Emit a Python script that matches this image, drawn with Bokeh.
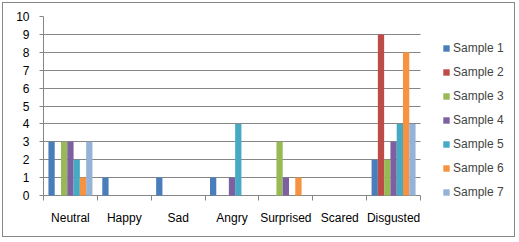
from bokeh.plotting import figure
from bokeh.models import ColumnDataSource, FixedTicker, Range1d, Legend, LegendItem
from bokeh.transform import dodge
from bokeh.embed import file_html
from bokeh.resources import INLINE

categories = ["Neutral", "Happy", "Sad", "Angry", "Surprised", "Scared", "Disgusted"]
series_names = ["Sample 1", "Sample 2", "Sample 3", "Sample 4", "Sample 5", "Sample 6", "Sample 7"]
sample1 = [3, 1, 1, 1, 0, 0, 2]
sample2 = [0, 0, 0, 0, 0, 0, 9]
sample3 = [3, 0, 0, 0, 3, 0, 2]
sample4 = [3, 0, 0, 1, 1, 0, 3]
sample5 = [2, 0, 0, 4, 0, 0, 4]
sample6 = [1, 0, 0, 0, 1, 0, 8]
sample7 = [3, 0, 0, 0, 0, 0, 4]
y_ticks = [0, 1, 2, 3, 4, 5, 6, 7, 8, 9, 10]
series = [sample1, sample2, sample3, sample4, sample5, sample6, sample7]
colors = ["#4A7EBB", "#BE4B48", "#98B954", "#7D60A0", "#46AAC5", "#F69240", "#94B3D6"]

FONT = "Liberation Sans"
GRAY = "#868686"

n = len(categories)
data = {"x": [i + 0.5 for i in range(n)]}
for k, s in enumerate(series):
    data["s%d" % k] = s
src = ColumnDataSource(data)

# layout (canvas pixels; figure sits inside a 2px margin + 1px border)
W, H = 513, 235
left, right_b, top, bottom_b = 40, 3, 13, 38
frame_w = W - left - right_b          # frame spans to the right edge (legend lives inside)
cat_w = 377                           # width of the category area
value_h = 179                         # pixels from 0 to 10
ext = 5                               # frame extends 5px below value 0
x_end = n * frame_w / cat_w
y_start = -ext * 10 / value_h

p = figure(width=W, height=H, output_backend="svg", toolbar_location=None,
           x_range=Range1d(0, x_end), y_range=Range1d(y_start, 10),
           min_border_left=left, min_border_right=right_b,
           min_border_top=top, min_border_bottom=bottom_b)
p.styles = {"border": "1px solid #868686", "margin": "2px"}
p.outline_line_color = None
p.background_fill_color = "white"
p.border_fill_color = "white"

bw = 0.1167
items = []
for k, name in enumerate(series_names):
    off = (k - 3) * bw
    r = p.vbar(x=dodge("x", off, range=p.x_range), top="s%d" % k, width=bw, bottom=0,
               source=src, fill_color=colors[k], line_color=None)
    items.append(LegendItem(label=name, renderers=[r]))

# y axis
p.yaxis.ticker = FixedTicker(ticks=y_ticks)
p.yaxis.bounds = (0, 10)
p.yaxis.axis_line_color = GRAY
p.yaxis.major_tick_line_color = GRAY
p.yaxis.major_tick_out = 4
p.yaxis.major_tick_in = 0
p.yaxis.minor_tick_line_color = None
p.yaxis.major_label_standoff = 10
p.yaxis.major_label_text_font = FONT
p.yaxis.major_label_text_font_size = "12px"
p.yaxis.major_label_text_color = "black"

# x axis: ticks between categories (drawn upward to value 0), labels at centres
p.xaxis.ticker = FixedTicker(ticks=[i + 0.5 for i in range(n)],
                             minor_ticks=list(range(0, n + 1)))
p.xaxis.bounds = (0, n)
p.xaxis.major_label_overrides = {i + 0.5: c for i, c in enumerate(categories)}
p.xaxis.axis_line_color = None
p.xaxis.major_tick_line_color = None
p.xaxis.minor_tick_line_color = GRAY
p.xaxis.minor_tick_out = 0
p.xaxis.minor_tick_in = ext
p.xaxis.major_tick_out = 0
p.xaxis.major_tick_in = 0
p.xaxis.major_label_standoff = 10
p.xaxis.major_label_text_font = FONT
p.xaxis.major_label_text_font_size = "12px"
p.xaxis.major_label_text_color = "black"

p.xgrid.grid_line_color = None
g = p.ygrid[0]
g.ticker = FixedTicker(ticks=y_ticks)
if "cross_bounds" in g.properties():
    g.grid_line_color = GRAY
    g.cross_bounds = (0, n)
else:
    g.grid_line_color = None
    p.segment(x0=[0] * len(y_ticks), x1=[n] * len(y_ticks), y0=y_ticks, y1=y_ticks,
              line_color=GRAY, line_width=1)

legend = Legend(items=items, location=(399, -2), orientation="vertical",
                border_line_color=None, background_fill_alpha=0,
                padding=0, margin=0, spacing=4, label_height=20,
                glyph_width=8, glyph_height=8, label_standoff=3,
                label_text_font=FONT, label_text_font_size="12px")
p.add_layout(legend)

open("out.html", "w").write(file_html(p, INLINE))
